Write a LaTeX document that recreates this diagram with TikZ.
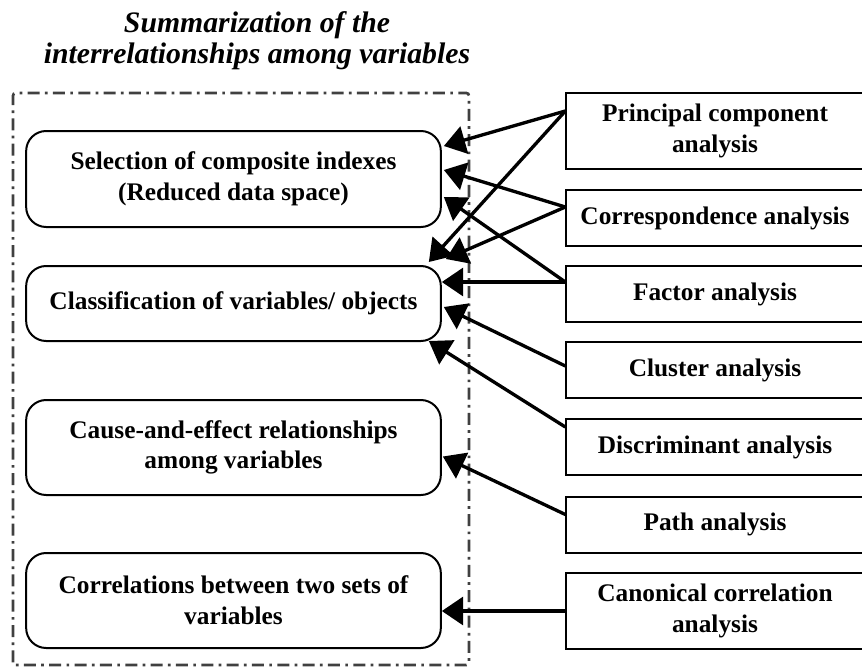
\documentclass[tikz,border=0pt]{standalone}
\usepackage{fontspec}
\setmainfont{Liberation Serif}
\usetikzlibrary{arrows.meta,calc}
\begin{document}
\begin{tikzpicture}[x=0.75pt,y=-0.75pt,
  goalbox/.style={draw,line width=1.5pt,rounded corners=15pt,minimum width=311pt,
    align=center,font=\fontsize{19}{23}\selectfont\bfseries,inner sep=0pt},
  methodbox/.style={draw,line width=1.5pt,minimum width=223pt,
    align=center,font=\fontsize{19}{23}\selectfont\bfseries,inner sep=0pt},
  link/.style={line width=2.5pt,-{Triangle[length=16pt,width=21pt]}},
  frame/.style={draw=black!75,line width=2pt,rounded corners=2pt,
    dash pattern=on 9pt off 4pt on 2pt off 4pt}]
\useasboundingbox (0,0) rectangle (862,667);

% title
\node[font=\fontsize{22.3}{23}\selectfont\bfseries\itshape,align=center] (title) at (257,41)
  {Summarization of the\\interrelationships among variables};

% dash-dotted frame around the goals
\draw[frame] (13,665) -- (13,93) -- (469,93) -- (469,665) -- cycle;

% goals
\node[goalbox,minimum height=72pt] (b1) at (233.5,179) {Selection of composite indexes\\(Reduced data space)};
\node[goalbox,minimum height=56.25pt] (b2) at (233.5,303.5) {Classification of variables/ objects};
\node[goalbox,minimum height=71.25pt] (b3) at (233.5,447.5) {Cause-and-effect relationships\\among variables};
\node[goalbox,minimum height=71.25pt] (b4) at (233.5,600.5) {Correlations between two sets of\\variables};

% methods
\node[methodbox,minimum height=57pt] (r1) at (715,131) {Principal component\\analysis};
\node[methodbox,minimum height=42pt] (r2) at (715,218) {Correspondence analysis};
\node[methodbox,minimum height=42pt] (r3) at (715,294) {Factor analysis};
\node[methodbox,minimum height=42pt] (r4) at (715,370) {Cluster analysis};
\node[methodbox,minimum height=42pt] (r5) at (715,447) {Discriminant analysis};
\node[methodbox,minimum height=42pt] (r6) at (715,524.5) {Path analysis};
\node[methodbox,minimum height=57pt] (r7) at (715,611) {Canonical correlation\\analysis};

% connectors
\coordinate (s1) at ($(r1.north west)+(0,19)$);
\coordinate (s2) at ($(r2.north west)+(0,18)$);
\coordinate (s3) at ($(r3.north west)+(0,17)$);
\coordinate (s4) at ($(r4.north west)+(0,25)$);
\coordinate (s5) at ($(r5.north west)+(0,9)$);
\coordinate (s6) at ($(r6.north west)+(0,19)$);
\draw[link] (s1) -- ($(b1.north east)+(2,16)$);
\draw[link] (s1) -- ($(b2.north east)+(-13,-3)$);
\draw[link] (s2) -- ($(b1.north east)+(2,40)$);
\draw[link] (s2) -- ($(b2.north east)+(4,-6)$);
\draw[link] (s3) -- ($(b1.north east)+(2,67)$);
\draw[link] (s3) -- (s3 -| b2.east);
\draw[link] (s4) -- ($(b2.north east)+(2,42)$);
\draw[link] (s5) -- ($(b2.south east)+(-13,-1)$);
\draw[link] (s6) -- ($(b3.east)+(1,9)$);
\draw[link] (r7.west) -- (r7.west -| b4.east);
\end{tikzpicture}
\end{document}
